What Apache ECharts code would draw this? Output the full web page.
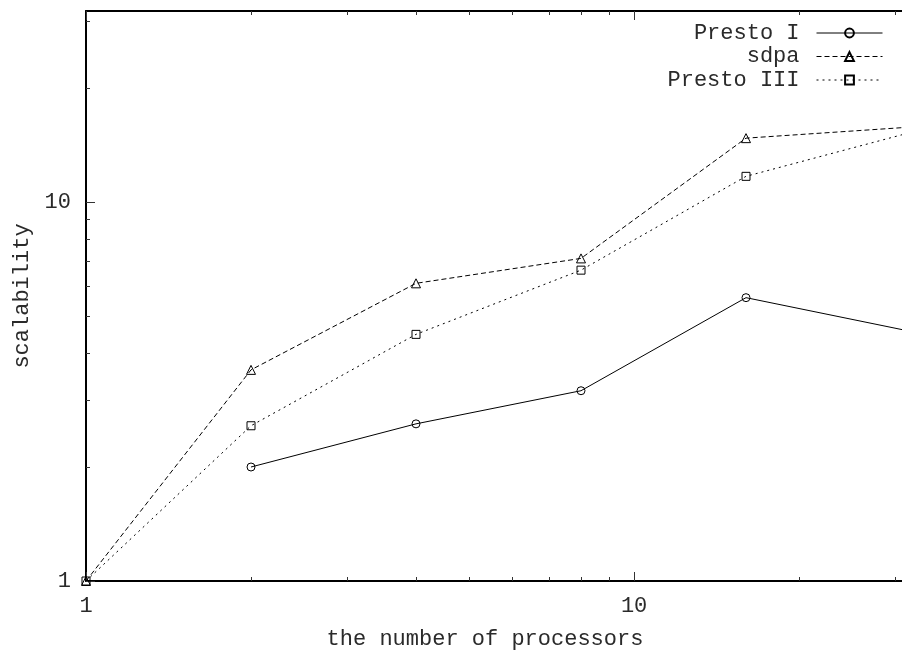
<!DOCTYPE html>
<html>
<head>
<meta charset="utf-8">
<style>
  html, body { margin: 0; padding: 0; background: #fff; overflow: hidden; }
  #chart { width: 920px; height: 655px; }
</style>
<script src="https://cdn.jsdelivr.net/npm/echarts@6/dist/echarts.min.js"></script>
</head>
<body>
<div id="chart"></div>
<script>
// Processor counts (log scale) and measured speed-up per solver
const processors = [1, 2, 4, 8, 16, 32];
const prestoI   = [null, 2.00, 2.60, 3.18, 5.60, 4.56];
const sdpa      = [1, 3.61, 6.11, 7.11, 14.77, 15.8];
const prestoIII = [1, 2.57, 4.48, 6.62, 11.71, 15.3];

const seriesNames = ['Presto I', 'sdpa', 'Presto III'];
const majorTicks = [1, 10];
const minorTicks = [2, 3, 4, 5, 6, 7, 8, 9, 20, 30];
const axisMin = 1, axisMax = 32;

const FONT = "'Liberation Mono', 'DejaVu Sans Mono', monospace";
const TEXT = '#2a2a2a';

function pairs(ys) {
  return processors.map((x, i) => ys[i] == null ? null : [x, ys[i]]).filter(p => p);
}

function logAxis(opts) {
  const base = {
    type: 'log', logBase: 10, min: axisMin, max: axisMax,
    splitLine: { show: false },
    axisLine: { show: false, onZero: false, lineStyle: { color: '#000', width: 2 } },
    axisTick: { show: true, inside: true, length: 9, customValues: majorTicks,
                lineStyle: { color: '#333', width: 1 } },
    axisLabel: { show: false }
  };
  return Object.assign(base, opts);
}

function minorAxis(position) {
  return logAxis({
    position,
    axisTick: { show: true, inside: true, length: 4, customValues: minorTicks,
                lineStyle: { color: '#333', width: 1 } }
  });
}

const labelStyle = { fontFamily: FONT, fontSize: 22, color: TEXT };

const chart = echarts.init(document.getElementById('chart'));
chart.setOption({
  animation: false,
  backgroundColor: '#fff',
  // the plot frame runs slightly past the right edge of the visible page
  grid: { left: 86, top: 11, width: 825, height: 571, containLabel: false },
  xAxis: [
    logAxis({
      position: 'bottom',
      axisLine: { show: true, onZero: false, lineStyle: { color: '#000', width: 2 } },
      axisLabel: Object.assign({ show: true, margin: 14, customValues: majorTicks }, labelStyle),
      name: 'the number of processors',
      nameLocation: 'middle',
      nameGap: 47,
      nameTextStyle: Object.assign({ padding: [0, 27, 0, 0] }, labelStyle)
    }),
    minorAxis('bottom'),
    logAxis({
      position: 'top',
      axisLine: { show: true, onZero: false, lineStyle: { color: '#000', width: 2 } }
    }),
    minorAxis('top')
  ],
  yAxis: [
    logAxis({
      position: 'left',
      axisLine: { show: true, onZero: false, lineStyle: { color: '#000', width: 2 } },
      axisLabel: Object.assign({ show: true, margin: 15, customValues: majorTicks }, labelStyle),
      name: 'scalability',
      nameLocation: 'middle',
      nameGap: 53,
      nameTextStyle: labelStyle
    }),
    minorAxis('left'),
    logAxis({
      position: 'right',
      axisLine: { show: true, onZero: false, lineStyle: { color: '#000', width: 2 } }
    }),
    minorAxis('right')
  ],
  legend: seriesNames.map((name, i) => ({
    data: [name],
    right: 37,
    top: 22 + i * 23.5,
    align: 'right',
    itemWidth: 66,
    itemHeight: 11,
    padding: 0,
    lineStyle: { width: 1 },
    textStyle: { fontFamily: FONT, fontSize: 22, color: TEXT, padding: [0, 12, 0, 0] },
    selectedMode: false
  })),
  series: [
    {
      name: 'Presto I', type: 'line', data: pairs(prestoI),
      symbol: 'circle', symbolSize: 8,
      itemStyle: { color: 'transparent', borderColor: '#000', borderWidth: 1 },
      lineStyle: { color: '#000', width: 1, type: 'solid' }
    },
    {
      name: 'sdpa', type: 'line', data: pairs(sdpa),
      symbol: 'triangle', symbolSize: 9,
      itemStyle: { color: 'transparent', borderColor: '#000', borderWidth: 1 },
      lineStyle: { color: '#000', width: 1, type: [5, 3] }
    },
    {
      name: 'Presto III', type: 'line', data: pairs(prestoIII),
      symbol: 'rect', symbolSize: 8,
      itemStyle: { color: 'transparent', borderColor: '#000', borderWidth: 1 },
      lineStyle: { color: '#000', width: 1, type: [2, 4] }
    }
  ]
});
</script>
</body>
</html>
